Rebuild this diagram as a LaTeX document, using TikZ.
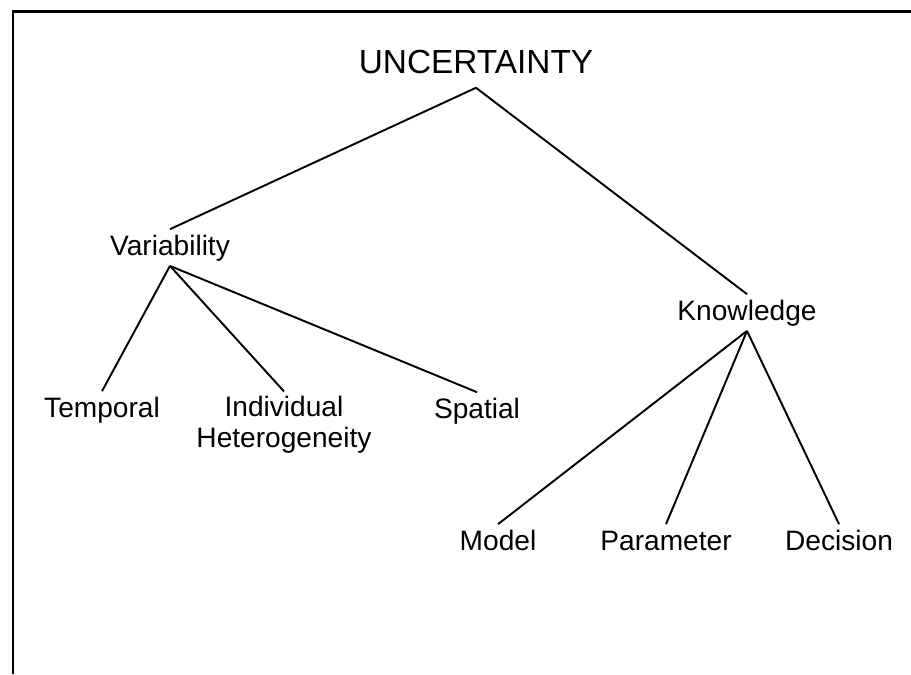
\documentclass[tikz,border=0pt]{standalone}
\usepackage{fontspec}
\setmainfont{Liberation Sans}
\usepackage{tikz}
\tikzstyle{term}=[inner sep=2.5pt, anchor=base, text height=12pt, text depth=3.5pt, font=\fontsize{16}{17.6}\selectfont]
\tikzstyle{top}=[inner sep=2.5pt, anchor=base, text depth=5.7pt, font=\fontsize{19}{22}\selectfont]
\tikzstyle{branch}=[line width=1.1pt]
\tikzstyle{frame}=[line width=1.7pt]

\begin{document}
\begin{tikzpicture}[x=0.02cm, y=-0.02cm]
		\useasboundingbox (0,0) rectangle (911,674);
		\draw[frame](911,11)--(13,11)--(13,674);
		\node[top] (U) at (476,73) {UNCERTAINTY};
		\node[term] (Var) at (170,255) {Variability};
		\node[term] (Kn) at (747,320) {Knowledge};
		%---------------------
		\node[term] (Tmp) at (102,417) {Temporal};
		\node[term, anchor=north, text height=, text depth=, align=center] (Ind) at (284,391.4) {Individual\\Heterogeneity};
		\node[term] (Spa) at (477,418) {Spatial};
		\node[term] (Mod) at (498,550) {Model};
		\node[term] (Par) at (666,550) {Parameter};
		\node[term] (Dec) at (839,550) {Decision};
		%---------------------
		\draw[branch](U.south)--(Var.north);
		\draw[branch](U.south)--(Kn.north);
		\draw[branch](Var.south)--(Tmp.north);
		\draw[branch](Var.south)--(Ind.north);
		\draw[branch](Var.south)--(Spa.north);
		\draw[branch](Kn.south)--(Mod.north);
		\draw[branch](Kn.south)--(Par.north);
		\draw[branch](Kn.south)--(Dec.north);
	\end{tikzpicture}
\end{document}
